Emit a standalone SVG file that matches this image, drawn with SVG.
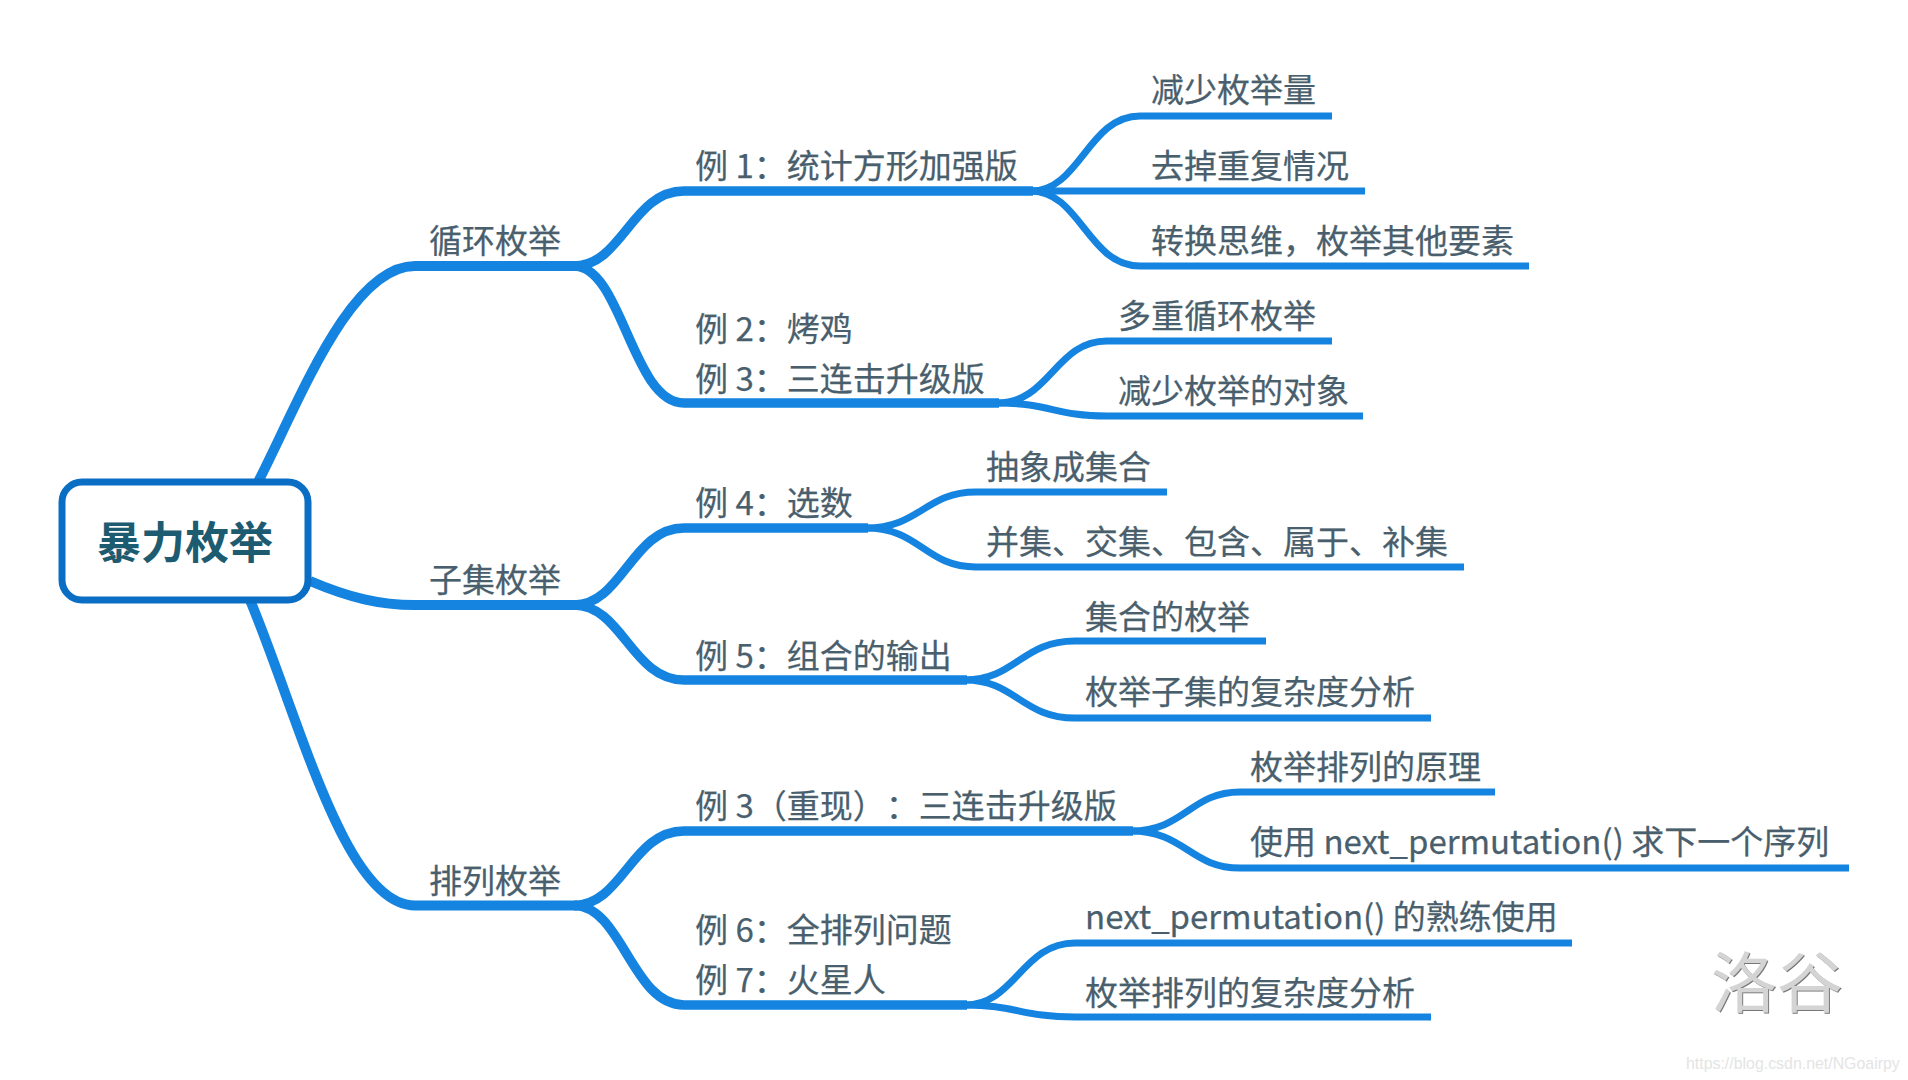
<svg xmlns="http://www.w3.org/2000/svg" width="1908" height="1080" viewBox="0 0 1908 1080">
<style>
text{font-family:"Noto Sans CJK SC","Noto Sans",sans-serif;fill:#4a5f6d;stroke:#4a5f6d;stroke-width:.25px;font-size:33px;text-spacing-trim:space-all}
.c path{fill:none;stroke:#1484e0;stroke-linecap:butt}
.a{stroke-width:10px}
.b{stroke-width:9.500px}
.d{stroke-width:7px}
.root{font-size:44px;font-weight:700;fill:#1d5b70;stroke:none;text-anchor:middle}
.wm{font-size:66px;fill:#d4d4d4;stroke:none}
.url{font-family:"Liberation Sans",sans-serif;font-size:15.900px;fill:#e4e4e4;stroke:none}
</style>
<defs><filter id="bevel" x="-10%" y="-10%" width="120%" height="120%"><feDropShadow dx="1" dy="1" stdDeviation="0.4" flood-color="#777"/></filter></defs>
<rect width="1908" height="1080" fill="#fff"/>
<g class="c" id="connectors">
<path class="a" d="M258 482C300 400 350 266 415 266H577"/>
<path class="a" d="M310 581C350 598 380 605 415 605H577"/>
<path class="a" d="M250 600C300 720 345 905.500 415 905.500H577"/>
<path class="b" d="M574 266C622 266 632 191 684 191H1033"/>
<path class="b" d="M574 266C622 266 632 403 684 403H999"/>
<path class="b" d="M574 605C622 605 632 528 684 528H868"/>
<path class="b" d="M574 605C622 605 632 680 684 680H967"/>
<path class="b" d="M574 905.500C622 905.500 632 831 684 831H1133"/>
<path class="b" d="M574 905.500C622 905.500 632 1005 684 1005H967"/>
<path class="d" d="M1031 191C1080 191 1088 116 1140 116H1332"/>
<path class="d" d="M1031 191H1365"/>
<path class="d" d="M1031 191C1080 191 1088 266 1140 266H1529"/>
<path class="d" d="M997 403C1050 403 1055 341 1107 341H1332"/>
<path class="d" d="M997 403C1050 403 1055 416 1107 416H1363"/>
<path class="d" d="M866 528C920 528 925 492 976 492H1167"/>
<path class="d" d="M866 528C920 528 925 567 976 567H1464"/>
<path class="d" d="M965 680C1015 680 1022 641 1075 641H1266"/>
<path class="d" d="M965 680C1015 680 1022 718 1075 718H1431"/>
<path class="d" d="M1131 831C1185 831 1190 792 1240 792H1495"/>
<path class="d" d="M1131 831C1185 831 1190 868 1240 868H1849"/>
<path class="d" d="M965 1005C1015 1005 1022 943 1075 943H1572"/>
<path class="d" d="M965 1005C1015 1005 1022 1017 1075 1017H1431"/>
</g>
<g id="root"><rect x="62" y="482" width="246" height="118" rx="20" fill="#fff" stroke="#0a6fc4" stroke-width="7"/><text class="root" x="185" y="559">暴力枚举</text></g>
<g id="n1"><text x="429" y="253">循环枚举</text></g>
<g id="n2"><text x="429" y="592">子集枚举</text></g>
<g id="n3"><text x="429" y="893">排列枚举</text></g>
<g id="n11"><text x="695" y="178">例 1：统计方形加强版</text></g>
<g id="n12"><text x="695" y="341">例 2：烤鸡</text><text x="695" y="391">例 3：三连击升级版</text></g>
<g id="n21"><text x="695" y="515">例 4：选数</text></g>
<g id="n22"><text x="695" y="668">例 5：组合的输出</text></g>
<g id="n31"><text x="695" y="818">例 3（重现）：三连击升级版</text></g>
<g id="n32"><text x="695" y="942">例 6：全排列问题</text><text x="695" y="992">例 7：火星人</text></g>
<g id="l1"><text x="1151" y="102">减少枚举量</text></g>
<g id="l2"><text x="1151" y="177.500">去掉重复情况</text></g>
<g id="l3"><text x="1151" y="253">转换思维，枚举其他要素</text></g>
<g id="l4"><text x="1118" y="328">多重循环枚举</text></g>
<g id="l5"><text x="1118" y="403">减少枚举的对象</text></g>
<g id="l6"><text x="986" y="478.500">抽象成集合</text></g>
<g id="l7"><text x="986" y="554">并集、交集、包含、属于、补集</text></g>
<g id="l8"><text x="1085" y="628.500">集合的枚举</text></g>
<g id="l9"><text x="1085" y="704">枚举子集的复杂度分析</text></g>
<g id="l10"><text x="1250" y="779">枚举排列的原理</text></g>
<g id="l11"><text x="1250" y="854">使用 next_permutation() 求下一个序列</text></g>
<g id="l12"><text x="1085" y="929">next_permutation() 的熟练使用</text></g>
<g id="l13"><text x="1085" y="1005">枚举排列的复杂度分析</text></g>
<text class="wm" x="1711" y="1007" filter="url(#bevel)">洛谷</text>
<text class="url" x="1686" y="1069">https://blog.csdn.net/NGoairpy</text>
</svg>
